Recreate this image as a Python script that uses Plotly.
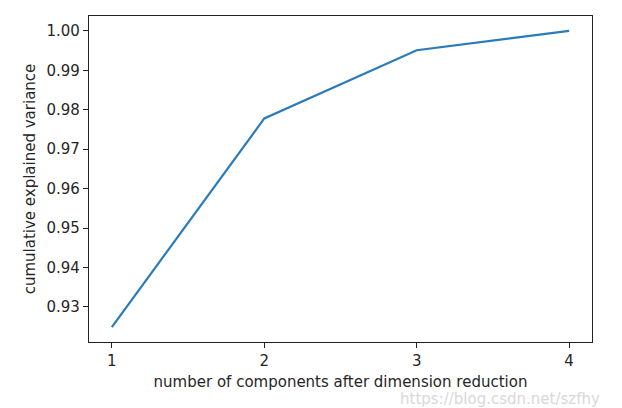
import plotly.graph_objects as go

components = [1, 2, 3, 4]
cum_var = [0.9249, 0.9778, 0.9951, 1.0000]
x_ticks = [1, 2, 3, 4]
y_ticks = [0.93, 0.94, 0.95, 0.96, 0.97, 0.98, 0.99, 1.00]
y_tick_text = ["0.93", "0.94", "0.95", "0.96", "0.97", "0.98", "0.99", "1.00"]

FONT = "DejaVu Sans"
TXT = "#262626"

fig = go.Figure()
fig.add_trace(go.Scatter(x=components, y=cum_var, mode="lines",
                         line=dict(color="#2b7bba", width=2.2), showlegend=False))

axis_common = dict(showline=True, linecolor="#222", linewidth=1.2, mirror=True,
                   ticks="outside", ticklen=5, tickwidth=1.2, tickcolor="#222",
                   showgrid=False, zeroline=False,
                   tickfont=dict(family=FONT, size=15, color=TXT))

fig.update_xaxes(range=[0.85, 4.15], tickvals=x_ticks, ticktext=[str(v) for v in x_ticks],
                 title=dict(text="number of components after dimension reduction",
                            font=dict(family=FONT, size=15, color=TXT), standoff=7),
                 **axis_common)
fig.update_yaxes(range=[0.92112, 1.00378], tickvals=y_ticks, ticktext=y_tick_text,
                 title=dict(text="cumulative explained variance",
                            font=dict(family=FONT, size=15, color=TXT), standoff=7),
                 **axis_common)

fig.add_annotation(text="https://blog.csdn.net/szfhy", xref="paper", yref="paper",
                   x=1.02, y=-0.175, xanchor="right", yanchor="middle", showarrow=False,
                   font=dict(family=FONT, size=15, color="#d8d8d8"))

fig.update_layout(width=622, height=408, margin=dict(l=89, r=30, t=16, b=66),
                  plot_bgcolor="white", paper_bgcolor="white")

fig.write_html("out.html")
